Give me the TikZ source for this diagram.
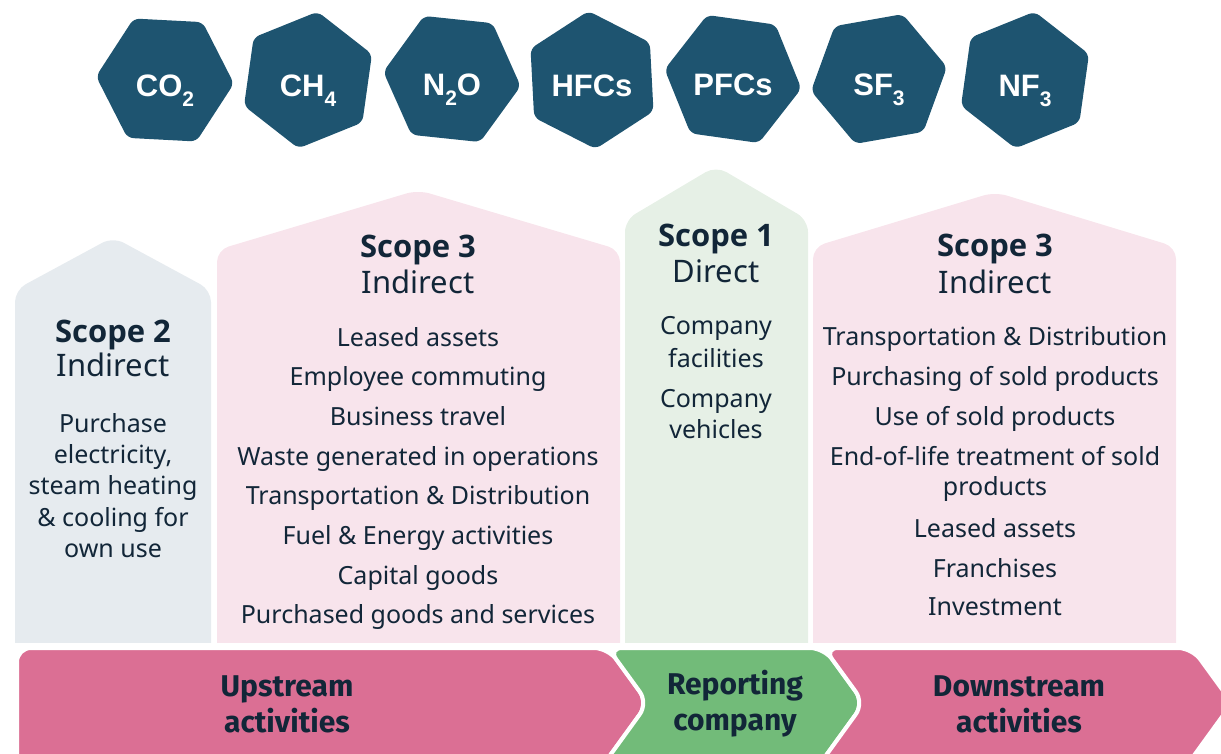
\documentclass[tikz,border=0pt]{standalone}
\usepackage{fontspec}
\setmainfont{Noto Sans}
\newfontfamily\titlefont{Open Sans}
\newfontfamily\gasfont{Liberation Sans}
\newfontfamily\chainfont{Fira Sans}
\usetikzlibrary{shapes.geometric}

\definecolor{gasblue}{RGB}{30,84,112}
\definecolor{ink}{RGB}{18,38,56}
\definecolor{scopetwo}{RGB}{230,235,239}
\definecolor{scopethree}{RGB}{248,228,236}
\definecolor{scopeone}{RGB}{230,240,230}
\definecolor{chainpink}{RGB}{219,111,148}
\definecolor{chaingreen}{RGB}{114,187,121}

% lowered index for the gas formulas
\newcommand{\gsub}[1]{\raisebox{-0.55ex}{\fontsize{10.5}{12}\selectfont #1}}

\begin{document}
\begin{tikzpicture}[
    x=0.5pt, y=-0.5pt,
    gas/.style={
        regular polygon,
        regular polygon sides=6,
        minimum size=69pt,
        inner sep=0pt,
        text height=17pt,
        text depth=0pt,
        fill=gasblue,
        rounded corners=3pt,
        text=white,
        font=\gasfont\bfseries\fontsize{15.5}{18}\selectfont
    },
    panel/.style={rounded corners=6pt},
    title/.style={anchor=base, text=ink, font=\titlefont\bfseries\fontsize{15.5}{18}\selectfont},
    subtitle/.style={anchor=base, text=ink, font=\fontsize{15.5}{18}\selectfont},
    item/.style={anchor=base, text=ink, font=\fontsize{12.5}{15}\selectfont},
    chain/.style={draw=white, line width=2pt, rounded corners=7pt},
    chainlabel/.style={align=center, text=ink, font=\chainfont\bfseries\fontsize{15}{18}\selectfont}
]
\useasboundingbox (0,0) rectangle (1221,754);
\clip (0,0) rectangle (1221,754);

% greenhouse gases
\node[gas, shape border rotate=-3] (co2) at (165,80) {CO\gsub{2}};
\node[gas, shape border rotate=22] (ch4) at (308,80) {CH\gsub{4}};
\node[gas, shape border rotate=-6] (n2o) at (452,79) {N\gsub{2}O};
\node[gas, shape border rotate=33] (hfcs) at (592,80) {HFCs};
\node[gas, shape border rotate=-8] (pfcs) at (733,79) {PFCs};
\node[gas, shape border rotate=10] (sf3) at (879,79) {SF\gsub{3}};
\node[gas, shape border rotate=22] (nf3) at (1025,80) {NF\gsub{3}};

% scope panels, cut off flat above the value chain
\begin{scope}
    \clip (0,0) rectangle (1221,642);
    \fill[panel, scopetwo] (15,700) -- (15,290) -- (113,237) -- (211,290) -- (211,700) -- cycle;
    \fill[panel, scopethree] (217,700) -- (217,250) -- (418,190) -- (620,250) -- (620,700) -- cycle;
    \fill[panel, scopeone] (625,700) -- (625,220) -- (716,166) -- (808,220) -- (808,700) -- cycle;
    \fill[panel, scopethree] (813,700) -- (813,247) -- (995,192) -- (1176,247) -- (1176,700) -- cycle;
\end{scope}

% scope 2
\node[title] (s2-name) at (113,343) {Scope 2};
\node[subtitle] (s2-kind) at (113,377) {Indirect};
\foreach \y/\txt [count=\i] in {432/Purchase, 463/{electricity,}, 494/steam heating,
        526/\& cooling for, 557/own use}
    \node[item] (s2-\i) at (113,\y) {\txt};

% scope 3 upstream
\node[title] (up-name) at (418,258) {Scope 3};
\node[subtitle] (up-kind) at (418,294) {Indirect};
\foreach \y/\txt [count=\i] in {346/Leased assets, 386/Employee commuting, 425/Business travel,
        465/Waste generated in operations, 504/Transportation \& Distribution,
        544/Fuel \& Energy activities, 584/Capital goods, 623/Purchased goods and services}
    \node[item] (up-\i) at (418,\y) {\txt};

% scope 1
\node[title] (s1-name) at (716,247) {Scope 1};
\node[subtitle] (s1-kind) at (716,283) {Direct};
\foreach \y/\txt [count=\i] in {335/Company, 367/facilities, 408/Company, 438/vehicles}
    \node[item] (s1-\i) at (716,\y) {\txt};

% scope 3 downstream
\node[title] (down-name) at (995,257) {Scope 3};
\node[subtitle] (down-kind) at (995,294) {Indirect};
\foreach \y/\txt [count=\i] in {345/Transportation \& Distribution, 386/Purchasing of sold products,
        425/Use of sold products, 465/End-of-life treatment of sold, 495/products,
        537/Leased assets, 577/Franchises, 615/Investment}
    \node[item] (down-\i) at (995,\y) {\txt};

% value chain
\filldraw[chain, fill=chainpink] (17,800) -- (17,648) -- (608,648) -- (648,703) -- (598,772) -- (598,800) -- cycle;
\filldraw[chain, fill=chaingreen] (608,648) -- (824,648) -- (864,703) -- (814,772) -- (598,772) -- (648,703) -- cycle;
\filldraw[chain, fill=chainpink] (824,648) -- (1192,648) -- (1232,703) -- (1182,772) -- (814,772) -- (864,703) -- cycle;

\node[chainlabel] (upstream) at (287,704) {Upstream\\activities};
\node[chainlabel] (reporting) at (735,704) {Reporting\\company};
\node[chainlabel] (downstream) at (1019,704) {Downstream\\activities};

\end{tikzpicture}
\end{document}
